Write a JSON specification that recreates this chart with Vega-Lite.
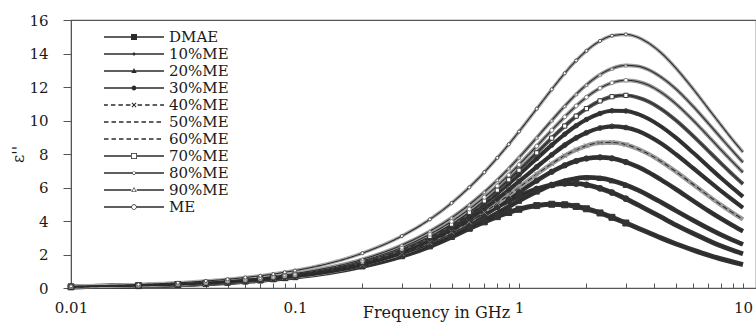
{
  "$schema": "https://vega.github.io/schema/vega-lite/v6.json",
  "width": 685,
  "height": 268,
  "autosize": {"type": "none"},
  "padding": {"left": 71, "top": 20, "right": 0, "bottom": 40},
  "background": "white",
  "config": {
    "font": "DejaVu Serif",
    "view": {"stroke": "#555", "strokeWidth": 1.2},
    "axis": {"grid": false, "domainColor": "#555", "tickColor": "#555", "labelColor": "#1a1a1a", "titleColor": "#1a1a1a", "labelFont": "DejaVu Serif", "titleFont": "DejaVu Serif", "labelFontSize": 15, "titleFontWeight": "normal"}
  },
  "data": {
    "values": [
      {"sample":"DMAE","freq":0.01,"eps":0.07},{"sample":"DMAE","freq":0.02,"eps":0.14},{"sample":"DMAE","freq":0.03,"eps":0.21},{"sample":"DMAE","freq":0.04,"eps":0.28},{"sample":"DMAE","freq":0.05,"eps":0.35},{"sample":"DMAE","freq":0.06,"eps":0.42},{"sample":"DMAE","freq":0.07,"eps":0.49},{"sample":"DMAE","freq":0.08,"eps":0.56},{"sample":"DMAE","freq":0.09,"eps":0.63},{"sample":"DMAE","freq":0.1,"eps":0.70},
      {"sample":"DMAE","freq":0.2,"eps":1.37},{"sample":"DMAE","freq":0.3,"eps":2.01},{"sample":"DMAE","freq":0.4,"eps":2.59},{"sample":"DMAE","freq":0.5,"eps":3.12},{"sample":"DMAE","freq":0.6,"eps":3.57},{"sample":"DMAE","freq":0.7,"eps":3.95},{"sample":"DMAE","freq":0.8,"eps":4.26},{"sample":"DMAE","freq":0.9,"eps":4.51},{"sample":"DMAE","freq":1,"eps":4.70},
      {"sample":"DMAE","freq":1.2,"eps":4.92},{"sample":"DMAE","freq":1.4,"eps":5.00},{"sample":"DMAE","freq":1.6,"eps":4.97},{"sample":"DMAE","freq":1.8,"eps":4.87},{"sample":"DMAE","freq":2,"eps":4.73},{"sample":"DMAE","freq":2.3,"eps":4.48},{"sample":"DMAE","freq":2.6,"eps":4.22},{"sample":"DMAE","freq":3,"eps":3.88},{"sample":"DMAE","freq":3.4,"eps":3.57},{"sample":"DMAE","freq":3.8,"eps":3.30},{"sample":"DMAE","freq":4.3,"eps":2.99},{"sample":"DMAE","freq":5,"eps":2.64},{"sample":"DMAE","freq":6,"eps":2.26},{"sample":"DMAE","freq":7,"eps":1.96},{"sample":"DMAE","freq":8,"eps":1.73},{"sample":"DMAE","freq":9,"eps":1.55},{"sample":"DMAE","freq":10,"eps":1.40},

      {"sample":"10%ME","freq":0.01,"eps":0.07},{"sample":"10%ME","freq":0.02,"eps":0.15},{"sample":"10%ME","freq":0.03,"eps":0.22},{"sample":"10%ME","freq":0.04,"eps":0.30},{"sample":"10%ME","freq":0.05,"eps":0.37},{"sample":"10%ME","freq":0.06,"eps":0.45},{"sample":"10%ME","freq":0.07,"eps":0.52},{"sample":"10%ME","freq":0.08,"eps":0.59},{"sample":"10%ME","freq":0.09,"eps":0.67},{"sample":"10%ME","freq":0.1,"eps":0.74},
      {"sample":"10%ME","freq":0.2,"eps":1.47},{"sample":"10%ME","freq":0.3,"eps":2.16},{"sample":"10%ME","freq":0.4,"eps":2.82},{"sample":"10%ME","freq":0.5,"eps":3.42},{"sample":"10%ME","freq":0.6,"eps":3.96},{"sample":"10%ME","freq":0.7,"eps":4.44},{"sample":"10%ME","freq":0.8,"eps":4.85},{"sample":"10%ME","freq":0.9,"eps":5.20},{"sample":"10%ME","freq":1,"eps":5.49},
      {"sample":"10%ME","freq":1.2,"eps":5.91},{"sample":"10%ME","freq":1.4,"eps":6.15},{"sample":"10%ME","freq":1.6,"eps":6.24},{"sample":"10%ME","freq":1.8,"eps":6.23},{"sample":"10%ME","freq":2,"eps":6.16},{"sample":"10%ME","freq":2.3,"eps":5.95},{"sample":"10%ME","freq":2.6,"eps":5.70},{"sample":"10%ME","freq":3,"eps":5.33},{"sample":"10%ME","freq":3.4,"eps":4.96},{"sample":"10%ME","freq":3.8,"eps":4.62},{"sample":"10%ME","freq":4.3,"eps":4.24},{"sample":"10%ME","freq":5,"eps":3.77},{"sample":"10%ME","freq":6,"eps":3.25},{"sample":"10%ME","freq":7,"eps":2.84},{"sample":"10%ME","freq":8,"eps":2.51},{"sample":"10%ME","freq":9,"eps":2.25},{"sample":"10%ME","freq":10,"eps":2.04},

      {"sample":"20%ME","freq":0.01,"eps":0.06},{"sample":"20%ME","freq":0.02,"eps":0.13},{"sample":"20%ME","freq":0.03,"eps":0.19},{"sample":"20%ME","freq":0.04,"eps":0.26},{"sample":"20%ME","freq":0.05,"eps":0.32},{"sample":"20%ME","freq":0.06,"eps":0.39},{"sample":"20%ME","freq":0.07,"eps":0.45},{"sample":"20%ME","freq":0.08,"eps":0.52},{"sample":"20%ME","freq":0.09,"eps":0.58},{"sample":"20%ME","freq":0.1,"eps":0.64},
      {"sample":"20%ME","freq":0.2,"eps":1.28},{"sample":"20%ME","freq":0.3,"eps":1.89},{"sample":"20%ME","freq":0.4,"eps":2.48},{"sample":"20%ME","freq":0.5,"eps":3.04},{"sample":"20%ME","freq":0.6,"eps":3.56},{"sample":"20%ME","freq":0.7,"eps":4.04},{"sample":"20%ME","freq":0.8,"eps":4.47},{"sample":"20%ME","freq":0.9,"eps":4.86},{"sample":"20%ME","freq":1,"eps":5.20},
      {"sample":"20%ME","freq":1.2,"eps":5.75},{"sample":"20%ME","freq":1.4,"eps":6.15},{"sample":"20%ME","freq":1.6,"eps":6.40},{"sample":"20%ME","freq":1.8,"eps":6.54},{"sample":"20%ME","freq":2,"eps":6.60},{"sample":"20%ME","freq":2.3,"eps":6.56},{"sample":"20%ME","freq":2.6,"eps":6.42},{"sample":"20%ME","freq":3,"eps":6.15},{"sample":"20%ME","freq":3.4,"eps":5.84},{"sample":"20%ME","freq":3.8,"eps":5.52},{"sample":"20%ME","freq":4.3,"eps":5.13},{"sample":"20%ME","freq":5,"eps":4.63},{"sample":"20%ME","freq":6,"eps":4.04},{"sample":"20%ME","freq":7,"eps":3.56},{"sample":"20%ME","freq":8,"eps":3.17},{"sample":"20%ME","freq":9,"eps":2.86},{"sample":"20%ME","freq":10,"eps":2.60},

      {"sample":"30%ME","freq":0.01,"eps":0.07},{"sample":"30%ME","freq":0.02,"eps":0.14},{"sample":"30%ME","freq":0.03,"eps":0.20},{"sample":"30%ME","freq":0.04,"eps":0.27},{"sample":"30%ME","freq":0.05,"eps":0.34},{"sample":"30%ME","freq":0.06,"eps":0.41},{"sample":"30%ME","freq":0.07,"eps":0.48},{"sample":"30%ME","freq":0.08,"eps":0.54},{"sample":"30%ME","freq":0.09,"eps":0.61},{"sample":"30%ME","freq":0.1,"eps":0.68},
      {"sample":"30%ME","freq":0.2,"eps":1.35},{"sample":"30%ME","freq":0.3,"eps":2.01},{"sample":"30%ME","freq":0.4,"eps":2.64},{"sample":"30%ME","freq":0.5,"eps":3.25},{"sample":"30%ME","freq":0.6,"eps":3.82},{"sample":"30%ME","freq":0.7,"eps":4.36},{"sample":"30%ME","freq":0.8,"eps":4.86},{"sample":"30%ME","freq":0.9,"eps":5.31},{"sample":"30%ME","freq":1,"eps":5.72},
      {"sample":"30%ME","freq":1.2,"eps":6.41},{"sample":"30%ME","freq":1.4,"eps":6.94},{"sample":"30%ME","freq":1.6,"eps":7.32},{"sample":"30%ME","freq":1.8,"eps":7.58},{"sample":"30%ME","freq":2,"eps":7.73},{"sample":"30%ME","freq":2.3,"eps":7.80},{"sample":"30%ME","freq":2.6,"eps":7.74},{"sample":"30%ME","freq":3,"eps":7.52},{"sample":"30%ME","freq":3.4,"eps":7.23},{"sample":"30%ME","freq":3.8,"eps":6.90},{"sample":"30%ME","freq":4.3,"eps":6.47},{"sample":"30%ME","freq":5,"eps":5.91},{"sample":"30%ME","freq":6,"eps":5.20},{"sample":"30%ME","freq":7,"eps":4.61},{"sample":"30%ME","freq":8,"eps":4.13},{"sample":"30%ME","freq":9,"eps":3.73},{"sample":"30%ME","freq":10,"eps":3.39},

      {"sample":"40%ME","freq":0.01,"eps":0.07},{"sample":"40%ME","freq":0.02,"eps":0.14},{"sample":"40%ME","freq":0.03,"eps":0.21},{"sample":"40%ME","freq":0.04,"eps":0.28},{"sample":"40%ME","freq":0.05,"eps":0.35},{"sample":"40%ME","freq":0.06,"eps":0.42},{"sample":"40%ME","freq":0.07,"eps":0.49},{"sample":"40%ME","freq":0.08,"eps":0.56},{"sample":"40%ME","freq":0.09,"eps":0.63},{"sample":"40%ME","freq":0.1,"eps":0.69},
      {"sample":"40%ME","freq":0.2,"eps":1.38},{"sample":"40%ME","freq":0.3,"eps":2.06},{"sample":"40%ME","freq":0.4,"eps":2.71},{"sample":"40%ME","freq":0.5,"eps":3.35},{"sample":"40%ME","freq":0.6,"eps":3.95},{"sample":"40%ME","freq":0.7,"eps":4.52},{"sample":"40%ME","freq":0.8,"eps":5.05},{"sample":"40%ME","freq":0.9,"eps":5.55},{"sample":"40%ME","freq":1,"eps":6.00},
      {"sample":"40%ME","freq":1.2,"eps":6.79},{"sample":"40%ME","freq":1.4,"eps":7.42},{"sample":"40%ME","freq":1.6,"eps":7.90},{"sample":"40%ME","freq":1.8,"eps":8.25},{"sample":"40%ME","freq":2,"eps":8.49},{"sample":"40%ME","freq":2.3,"eps":8.67},{"sample":"40%ME","freq":2.6,"eps":8.69},{"sample":"40%ME","freq":3,"eps":8.56},{"sample":"40%ME","freq":3.4,"eps":8.30},{"sample":"40%ME","freq":3.8,"eps":7.99},{"sample":"40%ME","freq":4.3,"eps":7.56},{"sample":"40%ME","freq":5,"eps":6.96},{"sample":"40%ME","freq":6,"eps":6.18},{"sample":"40%ME","freq":7,"eps":5.51},{"sample":"40%ME","freq":8,"eps":4.95},{"sample":"40%ME","freq":9,"eps":4.49},{"sample":"40%ME","freq":10,"eps":4.09},

      {"sample":"50%ME","freq":0.01,"eps":0.07},{"sample":"50%ME","freq":0.02,"eps":0.15},{"sample":"50%ME","freq":0.03,"eps":0.22},{"sample":"50%ME","freq":0.04,"eps":0.29},{"sample":"50%ME","freq":0.05,"eps":0.36},{"sample":"50%ME","freq":0.06,"eps":0.44},{"sample":"50%ME","freq":0.07,"eps":0.51},{"sample":"50%ME","freq":0.08,"eps":0.58},{"sample":"50%ME","freq":0.09,"eps":0.65},{"sample":"50%ME","freq":0.1,"eps":0.72},
      {"sample":"50%ME","freq":0.2,"eps":1.44},{"sample":"50%ME","freq":0.3,"eps":2.15},{"sample":"50%ME","freq":0.4,"eps":2.84},{"sample":"50%ME","freq":0.5,"eps":3.50},{"sample":"50%ME","freq":0.6,"eps":4.14},{"sample":"50%ME","freq":0.7,"eps":4.75},{"sample":"50%ME","freq":0.8,"eps":5.32},{"sample":"50%ME","freq":0.9,"eps":5.86},{"sample":"50%ME","freq":1,"eps":6.36},
      {"sample":"50%ME","freq":1.2,"eps":7.23},{"sample":"50%ME","freq":1.4,"eps":7.95},{"sample":"50%ME","freq":1.6,"eps":8.53},{"sample":"50%ME","freq":1.8,"eps":8.96},{"sample":"50%ME","freq":2,"eps":9.27},{"sample":"50%ME","freq":2.3,"eps":9.55},{"sample":"50%ME","freq":2.6,"eps":9.65},{"sample":"50%ME","freq":3,"eps":9.58},{"sample":"50%ME","freq":3.4,"eps":9.37},{"sample":"50%ME","freq":3.8,"eps":9.07},{"sample":"50%ME","freq":4.3,"eps":8.64},{"sample":"50%ME","freq":5,"eps":8.00},{"sample":"50%ME","freq":6,"eps":7.15},{"sample":"50%ME","freq":7,"eps":6.41},{"sample":"50%ME","freq":8,"eps":5.78},{"sample":"50%ME","freq":9,"eps":5.25},{"sample":"50%ME","freq":10,"eps":4.79},

      {"sample":"60%ME","freq":0.01,"eps":0.08},{"sample":"60%ME","freq":0.02,"eps":0.15},{"sample":"60%ME","freq":0.03,"eps":0.23},{"sample":"60%ME","freq":0.04,"eps":0.31},{"sample":"60%ME","freq":0.05,"eps":0.38},{"sample":"60%ME","freq":0.06,"eps":0.46},{"sample":"60%ME","freq":0.07,"eps":0.54},{"sample":"60%ME","freq":0.08,"eps":0.61},{"sample":"60%ME","freq":0.09,"eps":0.69},{"sample":"60%ME","freq":0.1,"eps":0.76},
      {"sample":"60%ME","freq":0.2,"eps":1.52},{"sample":"60%ME","freq":0.3,"eps":2.27},{"sample":"60%ME","freq":0.4,"eps":3.00},{"sample":"60%ME","freq":0.5,"eps":3.71},{"sample":"60%ME","freq":0.6,"eps":4.39},{"sample":"60%ME","freq":0.7,"eps":5.04},{"sample":"60%ME","freq":0.8,"eps":5.65},{"sample":"60%ME","freq":0.9,"eps":6.23},{"sample":"60%ME","freq":1,"eps":6.77},
      {"sample":"60%ME","freq":1.2,"eps":7.73},{"sample":"60%ME","freq":1.4,"eps":8.53},{"sample":"60%ME","freq":1.6,"eps":9.18},{"sample":"60%ME","freq":1.8,"eps":9.69},{"sample":"60%ME","freq":2,"eps":10.06},{"sample":"60%ME","freq":2.3,"eps":10.42},{"sample":"60%ME","freq":2.6,"eps":10.58},{"sample":"60%ME","freq":3,"eps":10.57},{"sample":"60%ME","freq":3.4,"eps":10.38},{"sample":"60%ME","freq":3.8,"eps":10.09},{"sample":"60%ME","freq":4.3,"eps":9.65},{"sample":"60%ME","freq":5,"eps":8.99},{"sample":"60%ME","freq":6,"eps":8.07},{"sample":"60%ME","freq":7,"eps":7.25},{"sample":"60%ME","freq":8,"eps":6.55},{"sample":"60%ME","freq":9,"eps":5.96},{"sample":"60%ME","freq":10,"eps":5.45},

      {"sample":"70%ME","freq":0.01,"eps":0.08},{"sample":"70%ME","freq":0.02,"eps":0.16},{"sample":"70%ME","freq":0.03,"eps":0.24},{"sample":"70%ME","freq":0.04,"eps":0.31},{"sample":"70%ME","freq":0.05,"eps":0.39},{"sample":"70%ME","freq":0.06,"eps":0.47},{"sample":"70%ME","freq":0.07,"eps":0.55},{"sample":"70%ME","freq":0.08,"eps":0.63},{"sample":"70%ME","freq":0.09,"eps":0.71},{"sample":"70%ME","freq":0.1,"eps":0.78},
      {"sample":"70%ME","freq":0.2,"eps":1.56},{"sample":"70%ME","freq":0.3,"eps":2.33},{"sample":"70%ME","freq":0.4,"eps":3.08},{"sample":"70%ME","freq":0.5,"eps":3.81},{"sample":"70%ME","freq":0.6,"eps":4.52},{"sample":"70%ME","freq":0.7,"eps":5.20},{"sample":"70%ME","freq":0.8,"eps":5.84},{"sample":"70%ME","freq":0.9,"eps":6.46},{"sample":"70%ME","freq":1,"eps":7.03},
      {"sample":"70%ME","freq":1.2,"eps":8.07},{"sample":"70%ME","freq":1.4,"eps":8.95},{"sample":"70%ME","freq":1.6,"eps":9.67},{"sample":"70%ME","freq":1.8,"eps":10.26},{"sample":"70%ME","freq":2,"eps":10.71},{"sample":"70%ME","freq":2.3,"eps":11.17},{"sample":"70%ME","freq":2.6,"eps":11.42},{"sample":"70%ME","freq":3,"eps":11.50},{"sample":"70%ME","freq":3.4,"eps":11.37},{"sample":"70%ME","freq":3.8,"eps":11.12},{"sample":"70%ME","freq":4.3,"eps":10.70},{"sample":"70%ME","freq":5,"eps":10.03},{"sample":"70%ME","freq":6,"eps":9.07},{"sample":"70%ME","freq":7,"eps":8.19},{"sample":"70%ME","freq":8,"eps":7.43},{"sample":"70%ME","freq":9,"eps":6.77},{"sample":"70%ME","freq":10,"eps":6.21},

      {"sample":"80%ME","freq":0.01,"eps":0.08},{"sample":"80%ME","freq":0.02,"eps":0.16},{"sample":"80%ME","freq":0.03,"eps":0.24},{"sample":"80%ME","freq":0.04,"eps":0.33},{"sample":"80%ME","freq":0.05,"eps":0.41},{"sample":"80%ME","freq":0.06,"eps":0.49},{"sample":"80%ME","freq":0.07,"eps":0.57},{"sample":"80%ME","freq":0.08,"eps":0.65},{"sample":"80%ME","freq":0.09,"eps":0.73},{"sample":"80%ME","freq":0.1,"eps":0.81},
      {"sample":"80%ME","freq":0.2,"eps":1.62},{"sample":"80%ME","freq":0.3,"eps":2.42},{"sample":"80%ME","freq":0.4,"eps":3.21},{"sample":"80%ME","freq":0.5,"eps":3.97},{"sample":"80%ME","freq":0.6,"eps":4.71},{"sample":"80%ME","freq":0.7,"eps":5.42},{"sample":"80%ME","freq":0.8,"eps":6.10},{"sample":"80%ME","freq":0.9,"eps":6.75},{"sample":"80%ME","freq":1,"eps":7.36},
      {"sample":"80%ME","freq":1.2,"eps":8.47},{"sample":"80%ME","freq":1.4,"eps":9.42},{"sample":"80%ME","freq":1.6,"eps":10.22},{"sample":"80%ME","freq":1.8,"eps":10.87},{"sample":"80%ME","freq":2,"eps":11.39},{"sample":"80%ME","freq":2.3,"eps":11.93},{"sample":"80%ME","freq":2.6,"eps":12.25},{"sample":"80%ME","freq":3,"eps":12.40},{"sample":"80%ME","freq":3.4,"eps":12.32},{"sample":"80%ME","freq":3.8,"eps":12.10},{"sample":"80%ME","freq":4.3,"eps":11.69},{"sample":"80%ME","freq":5,"eps":11.01},{"sample":"80%ME","freq":6,"eps":10.00},{"sample":"80%ME","freq":7,"eps":9.06},{"sample":"80%ME","freq":8,"eps":8.23},{"sample":"80%ME","freq":9,"eps":7.52},{"sample":"80%ME","freq":10,"eps":6.90},

      {"sample":"90%ME","freq":0.01,"eps":0.09},{"sample":"90%ME","freq":0.02,"eps":0.17},{"sample":"90%ME","freq":0.03,"eps":0.26},{"sample":"90%ME","freq":0.04,"eps":0.34},{"sample":"90%ME","freq":0.05,"eps":0.43},{"sample":"90%ME","freq":0.06,"eps":0.52},{"sample":"90%ME","freq":0.07,"eps":0.60},{"sample":"90%ME","freq":0.08,"eps":0.69},{"sample":"90%ME","freq":0.09,"eps":0.77},{"sample":"90%ME","freq":0.1,"eps":0.86},
      {"sample":"90%ME","freq":0.2,"eps":1.71},{"sample":"90%ME","freq":0.3,"eps":2.56},{"sample":"90%ME","freq":0.4,"eps":3.39},{"sample":"90%ME","freq":0.5,"eps":4.19},{"sample":"90%ME","freq":0.6,"eps":4.98},{"sample":"90%ME","freq":0.7,"eps":5.73},{"sample":"90%ME","freq":0.8,"eps":6.45},{"sample":"90%ME","freq":0.9,"eps":7.14},{"sample":"90%ME","freq":1,"eps":7.79},
      {"sample":"90%ME","freq":1.2,"eps":8.98},{"sample":"90%ME","freq":1.4,"eps":10.00},{"sample":"90%ME","freq":1.6,"eps":10.86},{"sample":"90%ME","freq":1.8,"eps":11.57},{"sample":"90%ME","freq":2,"eps":12.13},{"sample":"90%ME","freq":2.3,"eps":12.74},{"sample":"90%ME","freq":2.6,"eps":13.10},{"sample":"90%ME","freq":3,"eps":13.29},{"sample":"90%ME","freq":3.4,"eps":13.24},{"sample":"90%ME","freq":3.8,"eps":13.02},{"sample":"90%ME","freq":4.3,"eps":12.60},{"sample":"90%ME","freq":5,"eps":11.90},{"sample":"90%ME","freq":6,"eps":10.83},{"sample":"90%ME","freq":7,"eps":9.83},{"sample":"90%ME","freq":8,"eps":8.94},{"sample":"90%ME","freq":9,"eps":8.17},{"sample":"90%ME","freq":10,"eps":7.50},

      {"sample":"ME","freq":0.01,"eps":0.10},{"sample":"ME","freq":0.02,"eps":0.21},{"sample":"ME","freq":0.03,"eps":0.31},{"sample":"ME","freq":0.04,"eps":0.42},{"sample":"ME","freq":0.05,"eps":0.52},{"sample":"ME","freq":0.06,"eps":0.63},{"sample":"ME","freq":0.07,"eps":0.73},{"sample":"ME","freq":0.08,"eps":0.83},{"sample":"ME","freq":0.09,"eps":0.94},{"sample":"ME","freq":0.1,"eps":1.04},
      {"sample":"ME","freq":0.2,"eps":2.08},{"sample":"ME","freq":0.3,"eps":3.10},{"sample":"ME","freq":0.4,"eps":4.10},{"sample":"ME","freq":0.5,"eps":5.07},{"sample":"ME","freq":0.6,"eps":6.01},{"sample":"ME","freq":0.7,"eps":6.91},{"sample":"ME","freq":0.8,"eps":7.77},{"sample":"ME","freq":0.9,"eps":8.58},{"sample":"ME","freq":1,"eps":9.34},
      {"sample":"ME","freq":1.2,"eps":10.70},{"sample":"ME","freq":1.4,"eps":11.86},{"sample":"ME","freq":1.6,"eps":12.82},{"sample":"ME","freq":1.8,"eps":13.58},{"sample":"ME","freq":2,"eps":14.16},{"sample":"ME","freq":2.3,"eps":14.75},{"sample":"ME","freq":2.6,"eps":15.06},{"sample":"ME","freq":3,"eps":15.14},{"sample":"ME","freq":3.4,"eps":14.96},{"sample":"ME","freq":3.8,"eps":14.61},{"sample":"ME","freq":4.3,"eps":14.05},{"sample":"ME","freq":5,"eps":13.15},{"sample":"ME","freq":6,"eps":11.87},{"sample":"ME","freq":7,"eps":10.71},{"sample":"ME","freq":8,"eps":9.71},{"sample":"ME","freq":9,"eps":8.84},{"sample":"ME","freq":10,"eps":8.11}
    ]
  },
  "encoding": {
    "x": {
      "field": "freq", "type": "quantitative",
      "scale": {"type": "log", "domain": [0.01, 11.43], "nice": false},
      "axis": {
        "title": "Frequency in GHz",
        "titleFontSize": 16,
        "titleX": 365, "titleY": 29, "titleBaseline": "alphabetic",
        "values": [0.01,0.02,0.03,0.04,0.05,0.06,0.07,0.08,0.09,0.1,0.2,0.3,0.4,0.5,0.6,0.7,0.8,0.9,1,2,3,4,5,6,7,8,9,10],
        "labelExpr": "datum.value == 0.01 ? '0.01' : datum.value == 0.1 ? '0.1' : datum.value == 1 ? '1' : datum.value == 10 ? '10' : ''",
        "tickSize": -5,
        "labelPadding": 17,
        "labelBaseline": "top",
        "labelFlush": false,
        "labelOverlap": false
      }
    },
    "y": {
      "field": "eps", "type": "quantitative",
      "scale": {"domain": [0, 16], "nice": false},
      "axis": {
        "title": "ε''",
        "titleFontSize": 16,
        "titlePadding": 2,
        "values": [0,2,4,6,8,10,12,14,16],
        "tickSize": 8,
        "labelPadding": 15
      }
    }
  },
  "layer": [
    {
      "mark": {"type": "line", "interpolate": "monotone"},
      "encoding": {
        "detail": {"field": "sample"},
        "stroke": {
          "field": "sample", "type": "nominal", "legend": null,
          "scale": {"domain": ["DMAE","10%ME","20%ME","30%ME","40%ME","50%ME","60%ME","70%ME","80%ME","90%ME","ME"],
                    "range": ["#333","#333","#333","#333","#9a9a9a","#333","#333","#555","#999","#9a9a9a","#aaa"]}
        },
        "strokeWidth": {
          "field": "sample", "type": "nominal", "legend": null,
          "scale": {"domain": ["DMAE","10%ME","20%ME","30%ME","40%ME","50%ME","60%ME","70%ME","80%ME","90%ME","ME"],
                    "range": [5, 3.5, 3.5, 5, 3, 0, 0, 3.5, 3, 3.5, 3]}
        }
      }
    },
    {
      "mark": {"type": "line", "interpolate": "monotone", "stroke": "#2b2b2b", "strokeWidth": 1.1},
      "encoding": {
        "detail": {"field": "sample"},
        "strokeDash": {
          "field": "sample", "type": "nominal", "legend": null,
          "scale": {"domain": ["DMAE","10%ME","20%ME","30%ME","40%ME","50%ME","60%ME","70%ME","80%ME","90%ME","ME"],
                    "range": [[1,0],[1,0],[1,0],[1,0],[5,3],[5,3],[5,3],[1,0],[1,0],[1,0],[1,0]]}
        }
      }
    },
    {
      "transform": [{"filter": "datum.freq <= 3"}],
      "mark": {"type": "point", "filled": true, "strokeWidth": 1, "opacity": 1},
      "encoding": {
        "shape": {
          "field": "sample", "type": "nominal", "legend": null,
          "scale": {"domain": ["DMAE","10%ME","20%ME","30%ME","40%ME","50%ME","60%ME","70%ME","80%ME","90%ME","ME"],
                    "range": ["square","circle","triangle-up","circle","M-1,-1L1,1M-1,1L1,-1","circle","circle","square","circle","triangle-up","circle"]}
        },
        "fill": {
          "field": "sample", "type": "nominal", "legend": null,
          "scale": {"domain": ["DMAE","10%ME","20%ME","30%ME","40%ME","50%ME","60%ME","70%ME","80%ME","90%ME","ME"],
                    "range": ["#333","#333","#333","#333","transparent","transparent","transparent","white","white","white","white"]}
        },
        "stroke": {
          "field": "sample", "type": "nominal", "legend": null,
          "scale": {"domain": ["DMAE","10%ME","20%ME","30%ME","40%ME","50%ME","60%ME","70%ME","80%ME","90%ME","ME"],
                    "range": ["#333","#333","#333","#333","#888","#333","#333","#333","#888","#888","#555"]}
        },
        "size": {
          "field": "sample", "type": "nominal", "legend": null,
          "scale": {"domain": ["DMAE","10%ME","20%ME","30%ME","40%ME","50%ME","60%ME","70%ME","80%ME","90%ME","ME"],
                    "range": [36, 10, 24, 30, 22, 0, 0, 36, 16, 30, 36]}
        }
      }
    },
    {
      "transform": [{"filter": "datum.freq > 100"}],
      "mark": {"type": "point", "filled": true, "color": "#2b2b2b", "size": 3600, "opacity": 1},
      "encoding": {
        "shape": {
          "field": "sample", "type": "nominal",
          "scale": {"domain": ["DMAE","10%ME","20%ME","30%ME","40%ME","50%ME","60%ME","70%ME","80%ME","90%ME","ME"],
                    "range": [
                      "M-1,-0.022H1V0.022H-1ZM-0.1,-0.1H0.1V0.1H-0.1Z",
                      "M-1,-0.022H1V0.022H-1ZM-0.05,0A0.05,0.05 0 1,1 0.05,0A0.05,0.05 0 1,1 -0.05,0Z",
                      "M-1,-0.022H1V0.022H-1ZM0,-0.1L0.09,0.07H-0.09Z",
                      "M-1,-0.022H1V0.022H-1ZM-0.08,0A0.08,0.08 0 1,1 0.08,0A0.08,0.08 0 1,1 -0.08,0Z",
                      "M-1,-0.022H-0.87V0.022H-1ZM-0.77,-0.022H-0.62V0.022H-0.77ZM-0.52,-0.022H-0.37V0.022H-0.52ZM-0.27,-0.022H-0.12V0.022H-0.27ZM0.12,-0.022H0.27V0.022H0.12ZM0.37,-0.022H0.52V0.022H0.37ZM0.62,-0.022H0.77V0.022H0.62ZM0.87,-0.022H1V0.022H0.87ZM-0.0573,-0.0827L0.0827,0.0573L0.0573,0.0827L-0.0827,-0.0573ZM0.0573,-0.0827L0.0827,-0.0573L-0.0573,0.0827L-0.0827,0.0573Z",
                      "M-1,-0.022H-0.85V0.022H-1ZM-0.75,-0.022H-0.6V0.022H-0.75ZM-0.5,-0.022H-0.35V0.022H-0.5ZM-0.25,-0.022H-0.1V0.022H-0.25ZM0,-0.022H0.15V0.022H0ZM0.25,-0.022H0.4V0.022H0.25ZM0.5,-0.022H0.65V0.022H0.5ZM0.75,-0.022H0.9V0.022H0.75Z",
                      "M-1,-0.022H-0.85V0.022H-1ZM-0.75,-0.022H-0.6V0.022H-0.75ZM-0.5,-0.022H-0.35V0.022H-0.5ZM-0.25,-0.022H-0.1V0.022H-0.25ZM0,-0.022H0.15V0.022H0ZM0.25,-0.022H0.4V0.022H0.25ZM0.5,-0.022H0.65V0.022H0.5ZM0.75,-0.022H0.9V0.022H0.75Z",
                      "M-1,-0.022H-0.1V0.022H-1ZM0.1,-0.022H1V0.022H0.1ZM-0.1,-0.1H0.1V0.1H-0.1ZM-0.075,-0.075V0.075H0.075V-0.075Z",
                      "M-1,-0.022H-0.06V0.022H-1ZM0.06,-0.022H1V0.022H0.06ZM-0.06,0A0.06,0.06 0 1,1 0.06,0A0.06,0.06 0 1,1 -0.06,0ZM-0.04,0A0.04,0.04 0 1,0 0.04,0A0.04,0.04 0 1,0 -0.04,0Z",
                      "M-1,-0.022H-0.09V0.022H-1ZM0.09,-0.022H1V0.022H0.09ZM0,-0.1L0.09,0.07H-0.09ZM0,-0.061L-0.058,0.05H0.058Z",
                      "M-1,-0.022H-0.09V0.022H-1ZM0.09,-0.022H1V0.022H0.09ZM-0.09,0A0.09,0.09 0 1,1 0.09,0A0.09,0.09 0 1,1 -0.09,0ZM-0.068,0A0.068,0.068 0 1,0 0.068,0A0.068,0.068 0 1,0 -0.068,0Z"
                    ]},
          "legend": {
            "orient": "none", "legendX": 32, "legendY": 10, "direction": "vertical",
            "title": null, "padding": 0,
            "symbolSize": 3600, "symbolOpacity": 1, "symbolFillColor": "#2b2b2b",
            "labelFont": "DejaVu Serif", "labelFontSize": 15, "labelColor": "#1a1a1a",
            "labelOffset": 4, "rowPadding": 2, "clipHeight": 14
          }
        }
      }
    }
  ],
  "resolve": {
    "scale": {"stroke": "independent", "strokeWidth": "independent", "strokeDash": "independent", "shape": "independent", "fill": "independent", "size": "independent"},
    "legend": {"shape": "independent"}
  }
}
